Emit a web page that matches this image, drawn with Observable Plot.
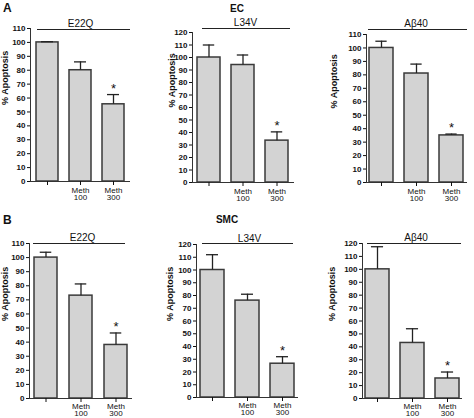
<!DOCTYPE html>
<html>
<head>
<meta charset="utf-8">
<script src="https://cdn.jsdelivr.net/npm/d3@7"></script>
<script src="https://cdn.jsdelivr.net/npm/@observablehq/plot@0.6"></script>
<style>
  html, body { margin: 0; padding: 0; background: #fff; }
  #root { position: relative; width: 474px; height: 418px; overflow: hidden; background: #fff;
          font-family: Arial, "Liberation Sans", sans-serif; color: #111; }
  .panel { position: absolute; }
  .lbl { position: absolute; font-weight: bold; line-height: 1; white-space: nowrap; }
</style>
</head>
<body>
<div id="root"></div>
<script>
// ---------- data ----------
const categories = ["Control", "Meth 100", "Meth 300"];
const xTickLabels = ["", "Meth\n100", "Meth\n300"];
const peptides = ["E22Q", "L34V", "Aβ40"];
const cellTypes = ["EC", "SMC"];
const panelLetters = ["A", "B"];
const yLabel = "% Apoptosis";
const significant = [false, false, true];

const ecE22QMean = [100, 80, 55.5];
const ecE22QErr  = [0.5, 6, 7];
const ecL34VMean = [100, 94, 33.5];
const ecL34VErr  = [10, 8, 7];
const ecAb40Mean = [100, 81, 35];
const ecAb40Err  = [5, 7, 1];

const smcE22QMean = [100, 73, 38];
const smcE22QErr  = [3.8, 8.3, 8.5];
const smcL34VMean = [100, 76, 26.5];
const smcL34VErr  = [12, 5, 5.5];
const smcAb40Mean = [100, 43, 15.5];
const smcAb40Err  = [17.5, 11, 5];

const yMaxes = [110, 120, 110, 110, 120, 120];

const seriesMeans = [ecE22QMean, ecL34VMean, ecAb40Mean, smcE22QMean, smcL34VMean, smcAb40Mean];
const seriesErrs  = [ecE22QErr, ecL34VErr, ecAb40Err, smcE22QErr, smcL34VErr, smcAb40Err];

// ---------- layout (positions / styles only) ----------
const layout = [
  {left:0,   top:0,   width:140, height:205, ml:30, mr:10, mt:28, mb:24, pi:0.34, po:0.17,  labelDx:-25, lineDy:1,  lineL:7,  lineR:0, textDy:-2, textDx:0,   tp:2},
  {left:155, top:0,   width:145, height:205, ml:37, mr:6,  mt:32, mb:23, pi:0.32, po:0.13,  labelDx:-20, lineDy:-4, lineL:10, lineR:4, textDy:-7, textDx:2,   tp:2},
  {left:315, top:0,   width:159, height:205, ml:51, mr:7,  mt:34, mb:23, pi:0.31, po:0.065, labelDx:-32, lineDy:-5, lineL:2,  lineR:0, textDy:-8, textDx:-1,  tp:2},
  {left:0,   top:200, width:140, height:218, ml:29, mr:8,  mt:43, mb:20, pi:0.33, po:0.135, labelDx:-24, lineDy:0,  lineL:4,  lineR:7, textDy:-3, textDx:1.5, tp:1},
  {left:155, top:200, width:145, height:218, ml:41, mr:2,  mt:44, mb:21, pi:0.32, po:0.105, labelDx:-26, lineDy:-1, lineL:6,  lineR:5, textDy:-3, textDx:2,   tp:1},
  {left:315, top:200, width:159, height:218, ml:47, mr:12, mt:43, mb:20, pi:0.32, po:0.085, labelDx:-30, lineDy:0,  lineL:5,  lineR:1, textDy:-3, textDx:3.5, tp:1}
];

const root = document.getElementById("root");
const font = 'Arial, "Liberation Sans", sans-serif';
const capWidth = 12;

layout.forEach((L, p) => {
  const yMax = yMaxes[p];
  const data = categories.map((c, i) => ({
    cat: c, mean: seriesMeans[p][i], err: seriesErrs[p][i], sig: significant[i]
  }));
  const range = L.width - L.ml - L.mr;
  const step = range / (categories.length - L.pi + 2 * L.po);
  const bw = step * (1 - L.pi);
  const capInset = Math.max(0, (bw - capWidth) / 2);

  const chart = Plot.plot({
    width: L.width, height: L.height,
    marginLeft: L.ml, marginRight: L.mr, marginTop: L.mt, marginBottom: L.mb,
    style: {background: "transparent", fontFamily: font, overflow: "visible", color: "#111"},
    x: {domain: categories, paddingInner: L.pi, paddingOuter: L.po, axis: null},
    y: {domain: [0, yMax], axis: null},
    marks: [
      Plot.barY(data, {x: "cat", y: "mean", fill: "#d3d3d3", stroke: "#3a3a3a", strokeWidth: 1.5}),
      Plot.ruleX(data, {x: "cat", y1: "mean", y2: d => d.mean + d.err, stroke: "#222", strokeWidth: 1.3}),
      Plot.tickY(data, {x: "cat", y: d => d.mean + d.err, insetLeft: capInset, insetRight: capInset, stroke: "#222", strokeWidth: 1.3}),
      Plot.text(data.filter(d => d.sig), {x: "cat", y: d => d.mean + d.err, text: () => "*", lineAnchor: "bottom", dy: -2, fontSize: 13, fill: "#111"}),
      Plot.ruleY([0], {stroke: "#333", strokeWidth: 1}),
      Plot.frame({anchor: "left", stroke: "#333", strokeWidth: 1}),
      Plot.axisY({ticks: d3.range(0, yMax + 1, 10), tickSize: 3, tickPadding: 2, fontSize: 8, fontWeight: "bold", label: null}),
      Plot.axisX({tickSize: 4, tickPadding: L.tp, fontSize: 8, lineHeight: 0.95, label: null,
                  tickFormat: d => xTickLabels[categories.indexOf(d)]}),
      Plot.text([yLabel], {frameAnchor: "left", rotate: -90, dx: L.labelDx, fontSize: 9, fontWeight: "bold", fill: "#111"}),
      Plot.ruleY([yMax], {dy: L.lineDy, insetLeft: L.lineL, insetRight: L.lineR, stroke: "#222", strokeWidth: 1}),
      Plot.text([peptides[p % 3]], {frameAnchor: "top", lineAnchor: "bottom", dy: L.textDy, dx: L.textDx, fontSize: 10, fill: "#111"})
    ]
  });
  chart.classList.add("panel");
  chart.style.left = L.left + "px";
  chart.style.top = L.top + "px";
  chart.style.maxWidth = "none";
  root.appendChild(chart);
});

// panel letters and cell-type headings
const headings = [
  {text: panelLetters[0], x: 3, y: 2, size: 12, center: false},
  {text: panelLetters[1], x: 3, y: 214, size: 12, center: false},
  {text: cellTypes[0], x: 237, y: 4, size: 10, center: true},
  {text: cellTypes[1], x: 227, y: 215, size: 10, center: true}
];
headings.forEach(h => {
  const el = document.createElement("div");
  el.className = "lbl";
  el.textContent = h.text;
  el.style.fontSize = h.size + "px";
  el.style.left = h.x + "px";
  el.style.top = h.y + "px";
  if (h.center) el.style.transform = "translateX(-50%)";
  root.appendChild(el);
});
</script>
</body>
</html>
